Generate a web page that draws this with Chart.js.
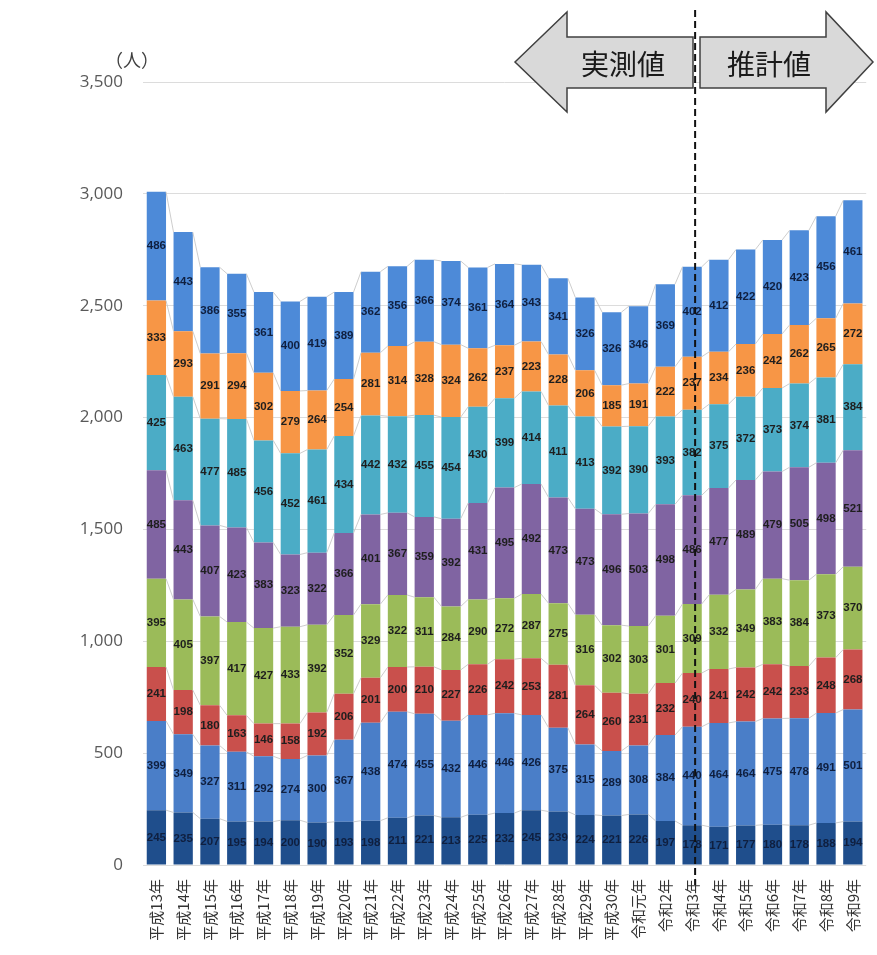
<!DOCTYPE html>
<html><head><meta charset="utf-8">
<script src="https://cdn.jsdelivr.net/npm/chart.js@4/dist/chart.umd.min.js"></script>
<style>html,body{margin:0;padding:0;background:#fff;}#wrap{width:877px;height:955px;position:relative;}</style>
</head><body><div id="wrap"><canvas id="c" width="877" height="955"></canvas></div>
<script>
const categories = ['平成13年','平成14年','平成15年','平成16年','平成17年','平成18年','平成19年','平成20年','平成21年','平成22年','平成23年','平成24年','平成25年','平成26年','平成27年','平成28年','平成29年','平成30年','令和元年','令和2年','令和3年','令和4年','令和5年','令和6年','令和7年','令和8年','令和9年'];
const s1 = [245,235,207,195,194,200,190,193,198,211,221,213,225,232,245,239,224,221,226,197,178,171,177,180,178,188,194];
const s2 = [399,349,327,311,292,274,300,367,438,474,455,432,446,446,426,375,315,289,308,384,440,464,464,475,478,491,501];
const s3 = [241,198,180,163,146,158,192,206,201,200,210,227,226,242,253,281,264,260,231,232,240,241,242,242,233,248,268];
const s4 = [395,405,397,417,427,433,392,352,329,322,311,284,290,272,287,275,316,302,303,301,309,332,349,383,384,373,370];
const s5 = [485,443,407,423,383,323,322,366,401,367,359,392,431,495,492,473,473,496,503,498,486,477,489,479,505,498,521];
const s6 = [425,463,477,485,456,452,461,434,442,432,455,454,430,399,414,411,413,392,390,393,382,375,372,373,374,381,384];
const s7 = [333,293,291,294,302,279,264,254,281,314,328,324,262,237,223,228,206,185,191,222,237,234,236,242,262,265,272];
const s8 = [486,443,386,355,361,400,419,389,362,356,366,374,361,364,343,341,326,326,346,369,402,412,422,420,423,456,461];
const yTicks = [0,500,1000,1500,2000,2500,3000,3500];
const seriesList = [s1,s2,s3,s4,s5,s6,s7,s8];
const colors = ['#1f4e8c','#4a7ec8','#c9504c','#9bbb59','#8064a2','#4bacc6','#f79646','#4d8ad8'];
const splitIndex = 20; // 令和3年
const arrowLeftText = '実測値';
const arrowRightText = '推計値';
const unitText = '（人）';

const datasets = seriesList.map((d,i)=>({label:'s'+(i+1),data:d,backgroundColor:colors[i],borderWidth:0,categoryPercentage:1,barPercentage:0.72}));

const overlay = {
  id:'overlay',
  afterDatasetsDraw(chart){
    const ctx = chart.ctx;
    const metas = chart.data.datasets.map((_,i)=>chart.getDatasetMeta(i));
    ctx.save();
    ctx.strokeStyle = 'rgba(200,200,200,0.9)';
    ctx.lineWidth = 1;
    metas.forEach(m=>{
      for(let i=0;i<m.data.length-1;i++){
        const a=m.data[i], b=m.data[i+1];
        ctx.beginPath();
        ctx.moveTo(a.x + a.width/2, a.y);
        ctx.lineTo(b.x - b.width/2, b.y);
        ctx.stroke();
      }
    });
    ctx.restore();
    ctx.save();
    ctx.font = 'bold 11.5px "Liberation Sans", Arial, sans-serif';
    ctx.textAlign = 'center';
    ctx.textBaseline = 'middle';
    metas.forEach((m,di)=>{
      m.data.forEach((el,i)=>{
        const v = chart.data.datasets[di].data[i];
        ctx.fillStyle = (di===0||di===1||di===7) ? '#0f1f3f' : '#1e1e1e';
        ctx.fillText(String(v), el.x, (el.y+el.base)/2);
      });
    });
    ctx.restore();
  },
  afterDraw(chart){
    const ctx = chart.ctx;
    const xs = chart.scales.x;
    ctx.save();
    ctx.fillStyle = '#d9d9d9';
    ctx.strokeStyle = '#404040';
    ctx.lineWidth = 1.5;
    const L = [[515,62],[567,12],[567,37],[693,37],[693,88],[567,88],[567,112]];
    const R = [[700,37],[826,37],[826,12],[873,62],[826,112],[826,88],[700,88]];
    [L,R].forEach(p=>{
      ctx.beginPath();
      ctx.moveTo(p[0][0],p[0][1]);
      for(let i=1;i<p.length;i++) ctx.lineTo(p[i][0],p[i][1]);
      ctx.closePath();
      ctx.fill(); ctx.stroke();
    });
    ctx.fillStyle = '#1a1a1a';
    ctx.font = '28px "Noto Sans CJK JP", sans-serif';
    ctx.textAlign = 'center';
    ctx.textBaseline = 'middle';
    ctx.fillText(arrowLeftText, 623, 64);
    ctx.fillText(arrowRightText, 769, 64);
    ctx.restore();
    const sx = xs.getPixelForValue(splitIndex) + 3;
    ctx.save();
    ctx.strokeStyle = '#111';
    ctx.lineWidth = 2;
    ctx.setLineDash([7,4]);
    ctx.beginPath();
    ctx.moveTo(sx, 10);
    ctx.lineTo(sx, 885);
    ctx.stroke();
    ctx.restore();
    ctx.save();
    ctx.fillStyle = '#404040';
    ctx.font = '18px "Noto Sans CJK JP", sans-serif';
    ctx.textAlign = 'left';
    ctx.textBaseline = 'middle';
    ctx.fillText(unitText, 105, 60);
    ctx.restore();
  }
};

new Chart(document.getElementById('c'), {
  type:'bar',
  data:{labels:categories, datasets},
  plugins:[overlay],
  options:{
    responsive:false, animation:false,
    layout:{padding:{left:0,right:9,top:82,bottom:0}},
    plugins:{legend:{display:false}, tooltip:{enabled:false}},
    scales:{
      x:{stacked:true, grid:{display:false}, border:{display:false},
         ticks:{maxRotation:90, minRotation:90, autoSkip:false, padding:6, color:'#333',
                font:{family:'"Noto Sans CJK JP", sans-serif', size:15}},
         afterFit(s){ s.height = 90; }},
      y:{stacked:true, min:0, max:3500, border:{display:false},
         grid:{color:'#dcdcdc', drawTicks:false},
         afterBuildTicks(s){ s.ticks = yTicks.map(v=>({value:v})); },
         ticks:{padding:20, color:'#595959', font:{family:'"Open Sans", sans-serif', size:17},
                callback:v=>v.toLocaleString('en-US')},
         afterFit(s){ s.width = 143; }}
    }
  }
});
</script></body></html>
